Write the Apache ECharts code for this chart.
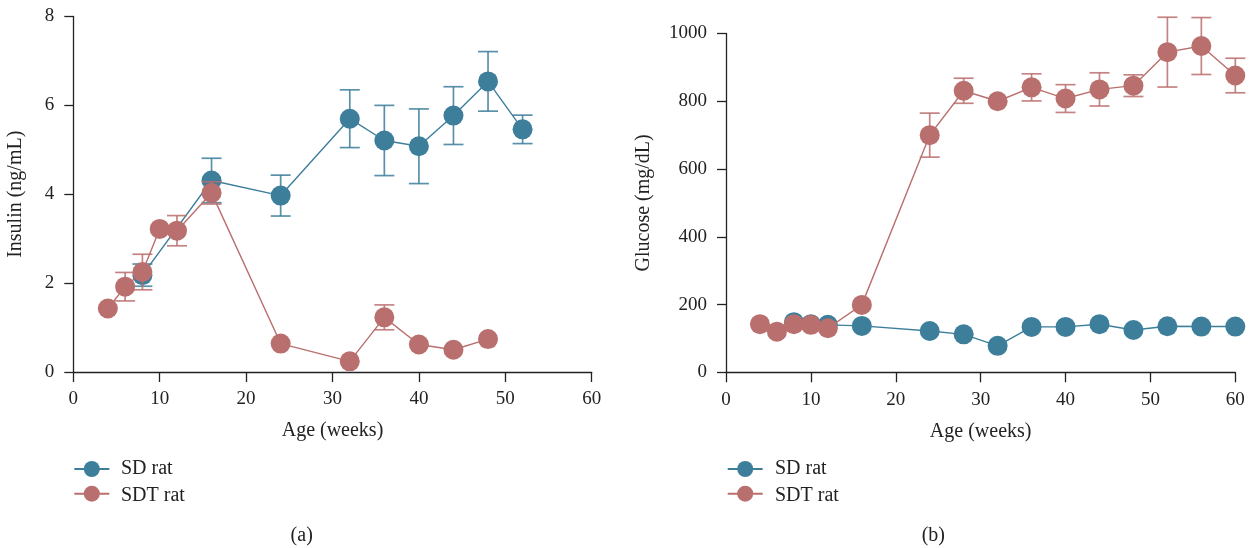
<!DOCTYPE html>
<html>
<head>
<meta charset="utf-8">
<script src="https://cdn.jsdelivr.net/npm/echarts@6/dist/echarts.min.js"></script>
<style>
html,body{margin:0;padding:0;background:#fff;}
#chart{width:1251px;height:548px;}
</style>
</head>
<body>
<div id="chart"></div>
<script>
// ---- Data ----
const seriesNames = ['SD rat', 'SDT rat'];
const xTitle = 'Age (weeks)';
const yTitleA = 'Insulin (ng/mL)';
const yTitleB = 'Glucose (mg/dL)';
const captions = ['(a)', '(b)'];

// Panel (a): insulin
const weeksA_SD = [8, 16, 24, 32, 36, 40, 44, 48, 52];
const insulinSD = [2.18, 4.31, 3.97, 5.70, 5.21, 5.08, 5.77, 6.54, 5.46];
const insulinSDerr = [0.25, 0.50, 0.46, 0.65, 0.79, 0.84, 0.65, 0.67, 0.32];
const weeksA_SDT = [4, 6, 8, 10, 12, 16, 24, 32, 36, 40, 44, 48];
const insulinSDT = [1.43, 1.92, 2.25, 3.22, 3.18, 4.03, 0.64, 0.24, 1.23, 0.62, 0.50, 0.74];
const insulinSDTerr = [0, 0.32, 0.40, 0, 0.34, 0.25, 0, 0, 0.28, 0, 0, 0];

// Panel (b): glucose
const weeksB_SD = [8, 10, 12, 16, 24, 28, 32, 36, 40, 44, 48, 52, 56, 60];
const glucoseSD = [148, 142, 140, 137, 122, 112, 78, 134, 134, 142, 125, 136, 135, 135];
const weeksB_SDT = [4, 6, 8, 10, 12, 16, 24, 28, 32, 36, 40, 44, 48, 52, 56, 60];
const glucoseSDT = [142, 120, 142, 140, 130, 199, 700, 831, 800, 841, 808, 835, 846, 945, 963, 876];
const glucoseSDTerr = [0, 0, 0, 0, 0, 0, 65, 37, 0, 40, 41, 49, 32, 103, 84, 51];

// ---- Styles ----
const BLUE = '#3d7e9b';
const RED = '#b96f6d';
const FONT = 'Liberation Serif';
const FONT20 = '20px "Liberation Serif", serif';
const INK = '#222';

function zip(xs, ys, es) {
  return xs.map((x, i) => es ? [x, ys[i], es[i]] : [x, ys[i]]);
}

function errRenderer(color) {
  return function (params, api) {
    const x = api.value(0), y = api.value(1), e = api.value(2);
    if (!e) return null;
    const top = api.coord([x, y + e]);
    const bot = api.coord([x, y - e]);
    const hw = 10;
    const st = { stroke: color, lineWidth: 1.7, opacity: 0.85 };
    return {
      type: 'group',
      children: [
        { type: 'line', shape: { x1: top[0], y1: top[1], x2: bot[0], y2: bot[1] }, style: st },
        { type: 'line', shape: { x1: top[0] - hw, y1: top[1], x2: top[0] + hw, y2: top[1] }, style: st },
        { type: 'line', shape: { x1: bot[0] - hw, y1: bot[1], x2: bot[0] + hw, y2: bot[1] }, style: st }
      ]
    };
  };
}

const axisLineStyle = { color: INK, width: 1.3 };
function xAxis(gridIndex) {
  return {
    type: 'value', gridIndex, min: 0, max: 60, interval: 10,
    name: xTitle, nameLocation: 'middle', nameGap: 49,
    nameTextStyle: { fontFamily: FONT, fontSize: 20, color: INK },
    axisLine: { show: true, lineStyle: axisLineStyle },
    axisTick: { show: true, length: 10, lineStyle: axisLineStyle },
    axisLabel: { fontFamily: FONT, fontSize: 19, color: INK, margin: 18 },
    splitLine: { show: false }
  };
}
function yAxis(gridIndex, max, interval, name, gap) {
  return {
    type: 'value', gridIndex, min: 0, max, interval,
    name, nameLocation: 'middle', nameGap: gap,
    nameTextStyle: { fontFamily: FONT, fontSize: 20, color: INK },
    axisLine: { show: true, lineStyle: axisLineStyle },
    axisTick: { show: true, length: 9, lineStyle: axisLineStyle },
    axisLabel: { fontFamily: FONT, fontSize: 19, color: INK, margin: 19, formatter: v => String(v) },
    splitLine: { show: false }
  };
}

function lineSeries(name, color, data, xi, z) {
  return {
    type: 'line', name, xAxisIndex: xi, yAxisIndex: xi, data,
    symbol: 'circle', symbolSize: 20,
    itemStyle: { color: color },
    lineStyle: { color: color, width: 1.4 },
    z, animation: false
  };
}
function errSeries(name, color, data, xi, z) {
  return {
    type: 'custom', name, xAxisIndex: xi, yAxisIndex: xi, data,
    renderItem: errRenderer(color), encode: { x: 0, y: 1 },
    z, animation: false, silent: true
  };
}

function legend(left) {
  return {
    data: seriesNames, orient: 'vertical', left, top: 459, padding: 0,
    itemWidth: 35, itemHeight: 20, itemGap: 6.7,
    formatter: () => '',
    selectedMode: false
  };
}
function legendText(x, y, text) {
  return { type: 'text', x, y, style: { text, textAlign: 'left', textVerticalAlign: 'middle', font: FONT20, fill: INK } };
}
function caption(x, text) {
  return { type: 'text', x, y: 536, style: { text, textAlign: 'center', textVerticalAlign: 'middle', font: FONT20, fill: INK } };
}

const chart = echarts.init(document.getElementById('chart'), null, { renderer: 'canvas' });
chart.setOption({
  animation: false,
  backgroundColor: '#fff',
  textStyle: { fontFamily: FONT, color: INK },
  grid: [
    { left: 73.3, top: 16.5, width: 518.4, height: 355.5 },
    { left: 726, top: 33.5, width: 509.3, height: 338.8 }
  ],
  xAxis: [xAxis(0), xAxis(1)],
  yAxis: [yAxis(0, 8, 2, yTitleA, 48), yAxis(1, 1000, 200, yTitleB, 72)],
  legend: [legend(73.3), legend(726.7)],
  series: [
    errSeries('SD err a', BLUE, zip(weeksA_SD, insulinSD, insulinSDerr), 0, 1),
    lineSeries(seriesNames[0], BLUE, zip(weeksA_SD, insulinSD), 0, 2),
    errSeries('SDT err a', RED, zip(weeksA_SDT, insulinSDT, insulinSDTerr), 0, 3),
    lineSeries(seriesNames[1], RED, zip(weeksA_SDT, insulinSDT), 0, 4),
    lineSeries(seriesNames[0], BLUE, zip(weeksB_SD, glucoseSD), 1, 2),
    errSeries('SDT err b', RED, zip(weeksB_SDT, glucoseSDT, glucoseSDTerr), 1, 3),
    lineSeries(seriesNames[1], RED, zip(weeksB_SDT, glucoseSDT), 1, 4)
  ],
  graphic: [
    legendText(121, 469, seriesNames[0]),
    legendText(121, 495.7, seriesNames[1]),
    legendText(775, 469, seriesNames[0]),
    legendText(775, 495.7, seriesNames[1]),
    caption(301.7, captions[0]),
    caption(933.3, captions[1])
  ]
});
</script>
</body>
</html>
